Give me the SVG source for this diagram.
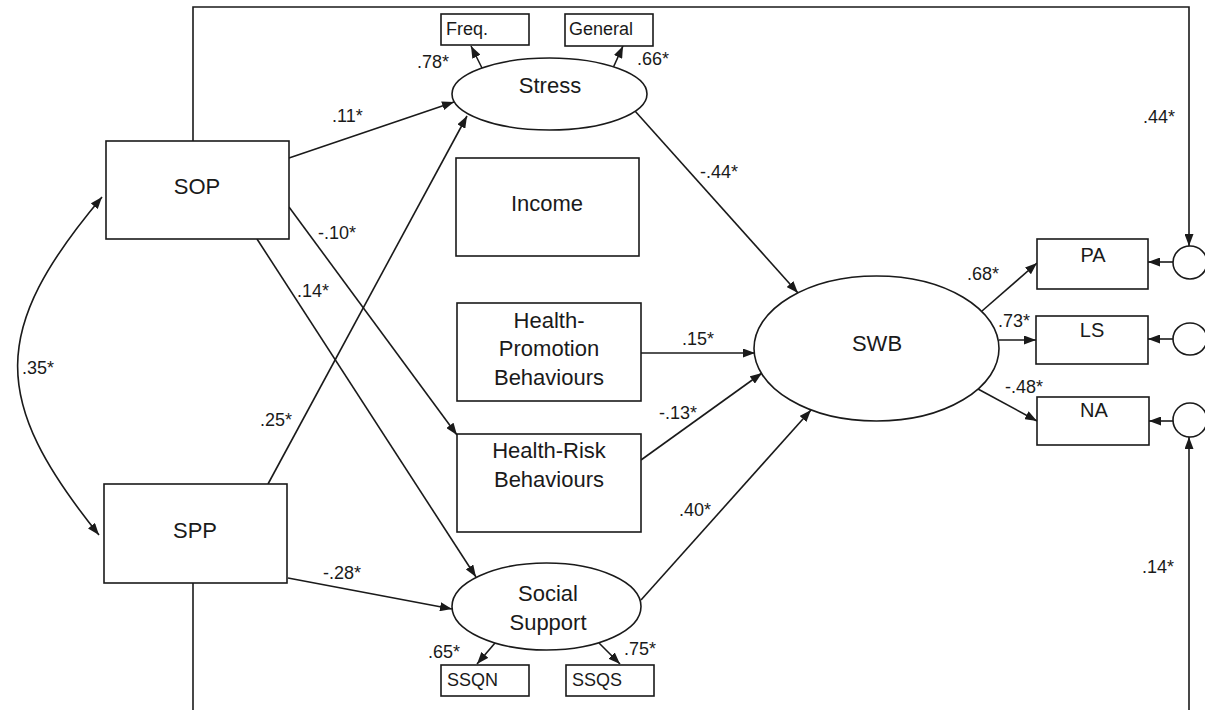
<svg xmlns="http://www.w3.org/2000/svg" width="1205" height="710" viewBox="0 0 1205 710">
  <style>
    .box { fill: #fff; stroke: #1a1a1a; stroke-width: 1.6; }
    .lat { fill: #fff; stroke: #1a1a1a; stroke-width: 1.6; }
    .lbl { font-family: "Liberation Sans", Arial, sans-serif; font-size: 22px; fill: #1a1a1a; text-anchor: middle; }
    .sm { font-family: "Liberation Sans", Arial, sans-serif; font-size: 18px; fill: #1a1a1a; }
    .ind { font-family: "Liberation Sans", Arial, sans-serif; font-size: 20px; fill: #1a1a1a; text-anchor: middle; }
    .coef { font-family: "Liberation Sans", Arial, sans-serif; font-size: 18px; fill: #1a1a1a; }
    .edge { fill: none; stroke: #1a1a1a; stroke-width: 1.6; }
    .arr { marker-end: url(#head); }
  </style>
  <defs>
    <marker id="head" viewBox="0 0 12 9" refX="12" refY="4.5" markerWidth="12" markerHeight="9" markerUnits="userSpaceOnUse" orient="auto-start-reverse">
      <path d="M0,0 L12,4.5 L0,9 z" fill="#1a1a1a"/>
    </marker>
  </defs>
  <rect width="1205" height="710" fill="#fff"/>

  <!-- connectors -->
  <g id="connectors">
    <!-- outer frame: SOP residual path to PA disturbance, SPP path to NA disturbance -->
    <path class="edge arr" d="M193,141 V7 H1189 V246"/>
    <path class="edge" d="M193,583 V710"/>
    <path class="edge arr" d="M1189,710 V437"/>
    <!-- SOP-SPP correlation -->
    <path class="edge" marker-start="url(#head)" marker-end="url(#head)" d="M102,197 C-10,330 -10,400 99,535"/>
    <!-- paths -->
    <path class="edge arr" d="M289,158 L454,102"/>
    <path class="edge arr" d="M268,484 L467,116"/>
    <path class="edge arr" d="M289,207 L457,435"/>
    <path class="edge arr" d="M257,239 L476,577"/>
    <path class="edge arr" d="M288,578 L452,609"/>
    <path class="edge arr" d="M482,68 L471,46"/>
    <path class="edge arr" d="M613,68 L623,46"/>
    <path class="edge arr" d="M635,111 L798,293"/>
    <path class="edge arr" d="M641,353 L755,353"/>
    <path class="edge arr" d="M641,460 L762,373"/>
    <path class="edge arr" d="M641,600 L811,410"/>
    <path class="edge arr" d="M495,643 L477,664"/>
    <path class="edge arr" d="M599,643 L620,664"/>
    <path class="edge arr" d="M982,311 L1037,263"/>
    <path class="edge arr" d="M999,340 L1036,340"/>
    <path class="edge arr" d="M978,389 L1037,421"/>
    <path class="edge arr" d="M1173,262 L1148,262"/>
    <path class="edge arr" d="M1173,339 L1148,339"/>
    <path class="edge arr" d="M1173,421 L1149,421"/>

    <!-- coefficients -->
    <text class="coef" x="417" y="68">.78*</text>
    <text class="coef" x="637" y="65">.66*</text>
    <text class="coef" x="332" y="122">.11*</text>
    <text class="coef" x="318" y="239">-.10*</text>
    <text class="coef" x="297" y="297">.14*</text>
    <text class="coef" x="260" y="426">.25*</text>
    <text class="coef" x="22" y="374">.35*</text>
    <text class="coef" x="323" y="579">-.28*</text>
    <text class="coef" x="700" y="178">-.44*</text>
    <text class="coef" x="682" y="345">.15*</text>
    <text class="coef" x="659" y="419">-.13*</text>
    <text class="coef" x="679" y="516">.40*</text>
    <text class="coef" x="967" y="280">.68*</text>
    <text class="coef" x="998" y="327">.73*</text>
    <text class="coef" x="1005" y="393">-.48*</text>
    <text class="coef" x="428" y="658">.65*</text>
    <text class="coef" x="624" y="655">.75*</text>
    <text class="coef" x="1143" y="123">.44*</text>
    <text class="coef" x="1142" y="573">.14*</text>
  </g>

  <!-- exogenous -->
  <g id="sop">
    <rect class="box" x="106" y="141" width="183" height="98"/>
    <text class="lbl" x="197" y="194">SOP</text>
  </g>
  <g id="spp">
    <rect class="box" x="104" y="484" width="183" height="99"/>
    <text class="lbl" x="195" y="538">SPP</text>
  </g>

  <!-- mediators -->
  <g id="stress">
    <ellipse class="lat" cx="549.5" cy="94" rx="97.5" ry="36"/>
    <text class="lbl" x="550" y="93">Stress</text>
  </g>
  <g id="freq">
    <rect class="box" x="441" y="14" width="88" height="31"/>
    <text class="sm" x="446" y="35">Freq.</text>
  </g>
  <g id="general">
    <rect class="box" x="565" y="14" width="88" height="32"/>
    <text class="sm" x="569" y="35">General</text>
  </g>
  <g id="income">
    <rect class="box" x="456" y="158" width="183" height="98"/>
    <text class="lbl" x="547" y="211">Income</text>
  </g>
  <g id="health-promotion">
    <rect class="box" x="457" y="303" width="184" height="98"/>
    <text class="lbl" x="549" y="328">Health-</text>
    <text class="lbl" x="549" y="356">Promotion</text>
    <text class="lbl" x="549" y="385">Behaviours</text>
  </g>
  <g id="health-risk">
    <rect class="box" x="457" y="434" width="184" height="98"/>
    <text class="lbl" x="549" y="458">Health-Risk</text>
    <text class="lbl" x="549" y="487">Behaviours</text>
  </g>
  <g id="social-support">
    <ellipse class="lat" cx="546.5" cy="606.5" rx="94.5" ry="43.5"/>
    <text class="lbl" x="548" y="601">Social</text>
    <text class="lbl" x="548" y="630">Support</text>
  </g>
  <g id="ssqn">
    <rect class="box" x="441" y="665" width="88" height="31"/>
    <text class="sm" x="447" y="686">SSQN</text>
  </g>
  <g id="ssqs">
    <rect class="box" x="566" y="665" width="88" height="31"/>
    <text class="sm" x="572" y="686">SSQS</text>
  </g>

  <!-- outcome -->
  <g id="swb">
    <ellipse class="lat" cx="876.5" cy="348.5" rx="122.5" ry="72.5"/>
    <text class="lbl" x="877" y="351">SWB</text>
  </g>
  <g id="pa">
    <rect class="box" x="1037" y="239" width="111" height="50"/>
    <text class="ind" x="1093" y="262">PA</text>
  </g>
  <g id="ls">
    <rect class="box" x="1036" y="316" width="112" height="48"/>
    <text class="ind" x="1092" y="337">LS</text>
  </g>
  <g id="na">
    <rect class="box" x="1037" y="397" width="112" height="48"/>
    <text class="ind" x="1094" y="417">NA</text>
  </g>
  <g id="e-pa">
    <ellipse class="lat" cx="1190" cy="262.5" rx="17" ry="16.5"/>
  </g>
  <g id="e-ls">
    <ellipse class="lat" cx="1190" cy="339" rx="17" ry="16"/>
  </g>
  <g id="e-na">
    <ellipse class="lat" cx="1190" cy="420" rx="17" ry="17"/>
  </g>
</svg>
